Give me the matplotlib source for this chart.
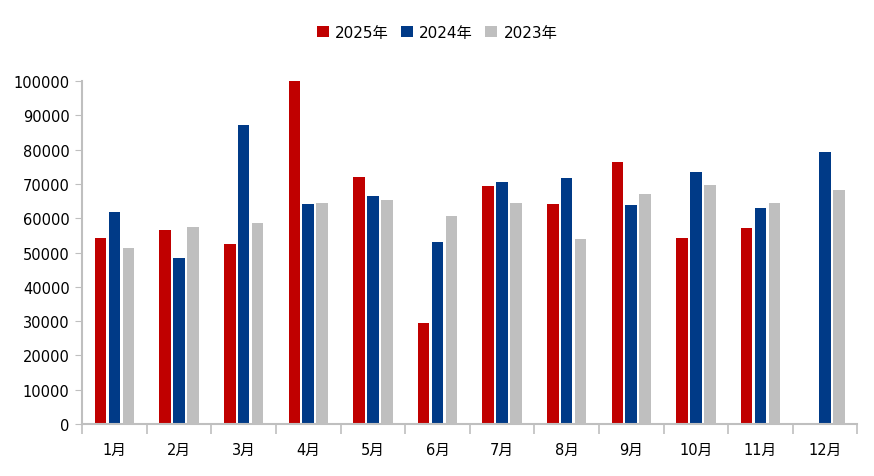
import matplotlib
matplotlib.use("Agg")
import matplotlib.pyplot as plt
import numpy as np

plt.rcParams['font.family'] = ['DejaVu Sans', 'Noto Sans CJK SC']

months = ["1月", "2月", "3月", "4月", "5月", "6月", "7月", "8月", "9月", "10月", "11月", "12月"]
y2025 = [54200, 56600, 52500, 100000, 72000, 29400, 69400, 64100, 76400, 54200, 57100, np.nan]
y2024 = [61800, 48400, 87200, 64100, 66500, 53100, 70600, 71700, 63800, 73500, 63000, 79300]
y2023 = [51300, 57400, 58600, 64400, 65300, 60600, 64400, 53900, 67100, 69700, 64400, 68200]
series = [("2025年", y2025, "#C00000"), ("2024年", y2024, "#003A87"), ("2023年", y2023, "#BFBFBF")]

fig = plt.figure(figsize=(8.74, 4.77), dpi=100)
ax = fig.add_axes([0.094, 0.109, 0.887, 0.719])

x = np.arange(len(months))
width = 0.18
step = 0.215
for i, (name, vals, color) in enumerate(series):
    ax.bar(x + (i - 1) * step, vals, width, color=color, label=name)

ax.set_xlim(-0.5, len(months) - 0.5)
ax.set_ylim(0, 100000)
ax.set_yticks(np.arange(0, 100001, 10000))
ax.tick_params(axis="y", labelsize=10.5, length=5, color="#BFBFBF", pad=4)
ax.set_xticks(x)
ax.set_xticklabels(months)
ax.tick_params(axis="x", which="major", length=0, labelsize=10.5, pad=13)
ax.set_xticks(np.arange(-0.5, len(months), 1), minor=True)
ax.tick_params(axis="x", which="minor", length=7, color="#BFBFBF", width=1.2)

for s in ["top", "right"]:
    ax.spines[s].set_visible(False)
for s in ["left", "bottom"]:
    ax.spines[s].set_color("#BFBFBF")
    ax.spines[s].set_linewidth(1.5)

fig.legend(loc="upper center", bbox_to_anchor=(0.5, 0.975), ncol=3, frameon=False,
           fontsize=11, handlelength=0.8, handleheight=0.8, handletextpad=0.4, columnspacing=0.8)

fig.savefig("out.png", dpi=100)
